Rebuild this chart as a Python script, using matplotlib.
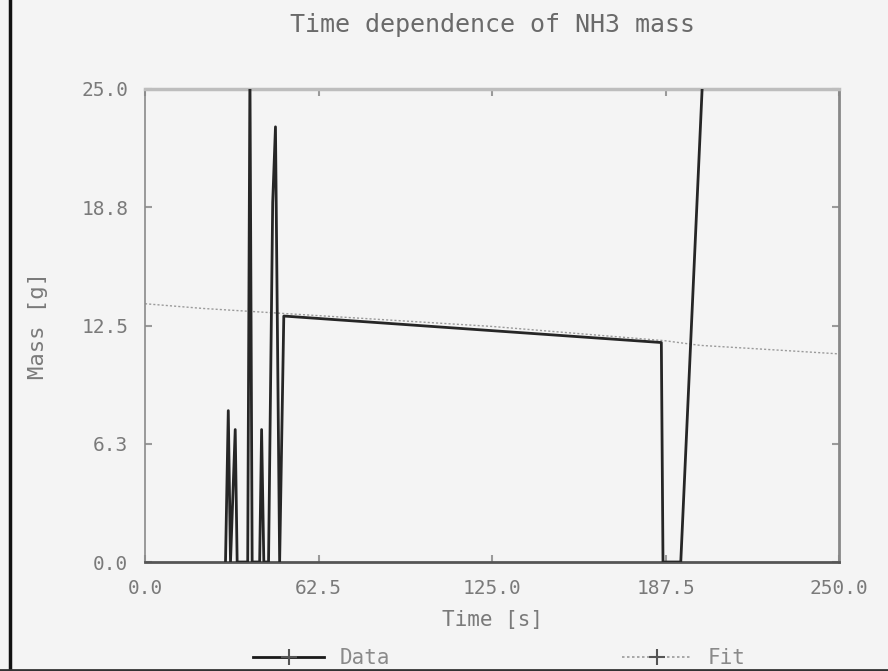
import matplotlib
matplotlib.use("Agg")
import matplotlib.pyplot as plt
from matplotlib.lines import Line2D

# ---- data ----
time_data = [29.0, 30.0, 30.8, 32.5, 33.2, 37.0, 37.8, 38.6, 41.3, 42.0, 42.8,
             44.5, 46.0, 47.0, 48.5, 50.0, 186.0, 186.6, 193.0, 201.0]
mass_data = [0.0, 8.0, 0.0, 7.0, 0.0, 0.0, 26.0, 0.0, 0.0, 7.0, 0.0,
             0.0, 19.0, 23.0, 0.0, 13.0, 11.6, 0.0, 0.0, 26.0]

time_fit = [0, 21, 43, 125, 187, 200, 228, 250]
mass_fit = [13.65, 13.4, 13.2, 12.45, 11.7, 11.45, 11.2, 11.0]

xticks = [0.0, 62.5, 125.0, 187.5, 250.0]
xtick_labels = ["0.0", "62.5", "125.0", "187.5", "250.0"]
yticks = [0.0, 6.25, 12.5, 18.75, 25.0]
ytick_labels = ["0.0", "6.3", "12.5", "18.8", "25.0"]

BG = "#f4f4f4"
TXT = "#7a7a7a"
FONT = "DejaVu Sans Mono"

fig = plt.figure(figsize=(8.88, 6.71), dpi=100, facecolor=BG)
ax = fig.add_axes([145 / 888, 1 - 562 / 671, 694 / 888, 473 / 671])
ax.set_facecolor(BG)

ax.plot(time_fit, mass_fit, color="#9a9a9a", lw=1.0, ls=(0, (1.5, 1.5)), zorder=2)
ax.plot(time_data, mass_data, color="#262626", lw=2.0, zorder=3)

ax.set_xlim(0, 250)
ax.set_ylim(0, 25)
ax.set_xticks(xticks)
ax.set_xticklabels(xtick_labels)
ax.set_yticks(yticks)
ax.set_yticklabels(ytick_labels)
ax.tick_params(direction="in", length=5, width=1.5, colors="#9a9a9a",
               top=True, right=True, labelsize=14, pad=12)
for lab in ax.get_xticklabels() + ax.get_yticklabels():
    lab.set_fontfamily(FONT)
    lab.set_color(TXT)

ax.spines["top"].set_color("#bdbdbd")
ax.spines["top"].set_linewidth(2.5)
ax.spines["right"].set_color("#888888")
ax.spines["right"].set_linewidth(2.0)
ax.spines["left"].set_color("#8a8a8a")
ax.spines["left"].set_linewidth(1.2)
ax.spines["bottom"].set_color("#555555")
ax.spines["bottom"].set_linewidth(2.0)

ax.set_title("Time dependence of NH3 mass", fontfamily=FONT, fontsize=18,
             color="#6a6a6a", pad=41)
ax.set_xlabel("Time [s]", fontfamily=FONT, fontsize=15, color=TXT, labelpad=9)
ax.set_ylabel("Mass [g]", fontfamily=FONT, fontsize=16, color=TXT, labelpad=24)

handles = [
    Line2D([], [], color="#1a1a1a", lw=2, marker="+", markersize=12,
           markeredgewidth=1.5, markeredgecolor="#555555"),
    Line2D([], [], color="#9a9a9a", lw=1.2, ls=(0, (1.5, 1.5)), marker="+",
           markersize=12, markeredgewidth=1.5, markeredgecolor="#555555"),
]
leg = fig.legend(handles, ["Data", "Fit"], loc="lower left",
                 bbox_to_anchor=(245 / 888, -0.008), ncol=2, frameon=False,
                 prop={"family": FONT, "size": 15}, handlelength=3.4,
                 handletextpad=0.75, columnspacing=11.1, borderaxespad=0.0)
for t in leg.get_texts():
    t.set_color("#8a8a8a")

# figure border lines (left and bottom)
fig.add_artist(Line2D([9.5 / 888, 9.5 / 888], [0, 1], transform=fig.transFigure,
                      color="#111111", lw=2.5))
fig.add_artist(Line2D([0, 1], [1 / 671, 1 / 671], transform=fig.transFigure,
                      color="#333333", lw=2.0))

fig.savefig("out.png", dpi=100, facecolor=BG)
